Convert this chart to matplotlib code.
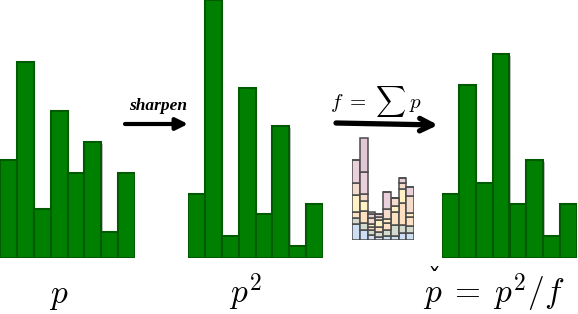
"""Sharpening diagram: p -> p^2 -> p^2 / f, with the stacked normaliser f in between."""
import matplotlib
matplotlib.use("Agg")
import matplotlib.pyplot as plt
import matplotlib.patheffects as pe
import numpy as np

plt.rcParams["mathtext.fontset"] = "cm"

W, H = 578, 314                      # figure size in pixels

# bar heights (fraction of the tallest panel)
p = [0.38, 0.76, 0.19, 0.57, 0.33, 0.45, 0.10, 0.33]
p_sq = [0.25, 1.00, 0.085, 0.66, 0.17, 0.51, 0.045, 0.21]
p_check = [0.25, 0.67, 0.29, 0.79, 0.21, 0.38, 0.085, 0.21]

# stacked layers of f = sum p (bottom -> top)
f_layers = [
    [16, 10, 5, 3, 4, 4, 7, 7],
    [6, 7, 5, 5, 6, 11, 8, 7],
    [6, 12, 3, 5, 7, 13, 22, 9],
    [17, 10, 3, 7, 4, 6, 14, 4],
    [12, 7, 6, 3, 10, 8, 6, 17],
    [23, 22, 4, 3, 17, 0, 5, 9],
    [0, 34, 2, 0, 0, 0, 0, 0],
]
f_colors = ["#cddff4", "#d3dbcf", "#fde0c2", "#fff0c6", "#f6dccc", "#ead0da", "#e2c7d5"]

labels = [r"$p$", r"$p^2$", r"$p\;=\;p^2/f$"]


def px_axes(fig, x0, y_top, w, h):
    """axes placed in pixel coords (y measured from the top)"""
    return fig.add_axes([x0 / W, 1 - (y_top + h) / H, w / W, h / H])


fig = plt.figure(figsize=(W / 100, H / 100), dpi=100)

shadow = [pe.SimplePatchShadow(offset=(1.2, -1.2), shadow_rgbFace="#9a9a9a", alpha=0.6), pe.Normal()]
for x0, vals in [(0, p), (188, p_sq), (442, p_check)]:
    ax = px_axes(fig, x0, 0, 135, 258)
    bars = ax.bar(np.arange(8), vals, width=1.0, color="#008000", edgecolor="#005a00", lw=1.5)
    for b in bars:
        b.set_path_effects(shadow)
    ax.set_xlim(-0.5, 7.5); ax.set_ylim(0, 1.0)
    ax.axis("off")

# small stacked histogram of f
axf = px_axes(fig, 352, 130, 62, 110)
bottom = np.zeros(8)
for vals, c in zip(f_layers, f_colors):
    axf.bar(np.arange(8), vals, bottom=bottom, width=1.0, color=c, edgecolor="#4a4a4a", lw=1.1)
    bottom += vals
axf.set_xlim(-0.5, 7.5); axf.set_ylim(0, 110)
axf.axis("off")

# overlay for arrows and labels, in pixel coords
ov = fig.add_axes([0, 0, 1, 1], zorder=5)
ov.set_xlim(0, W); ov.set_ylim(H, 0); ov.axis("off"); ov.patch.set_alpha(0)

ov.annotate("", xy=(188, 124), xytext=(125, 124),
            arrowprops=dict(arrowstyle="-|>,head_length=0.7,head_width=0.35", lw=3, color="black",
                            shrinkA=0, shrinkB=0))
ov.text(158, 110, "sharpen", ha="center", va="baseline", fontsize=12.5,
        family="Liberation Serif", fontweight="bold", style="italic")

ov.annotate("", xy=(438, 125), xytext=(336, 123),
            arrowprops=dict(arrowstyle="->,head_length=0.9,head_width=0.45", lw=3.8, color="black",
                            shrinkA=0, shrinkB=0))
ov.text(376, 108, r"$f\ =\ \sum\, p$", ha="center", va="baseline", fontsize=15)

texts = []
for x, s in zip([59, 245, 494], labels):
    texts.append(ov.text(x, 303, s, ha="center", va="baseline", fontsize=24))

# caron over the first p of the last label
fig.canvas.draw()
bb = texts[2].get_window_extent(fig.canvas.get_renderer())
xc = bb.x0 + 11
ov.text(xc, 287, "\u02c7", ha="center", va="baseline", fontsize=19, family="DejaVu Serif")

fig.savefig("out.png", dpi=100)
